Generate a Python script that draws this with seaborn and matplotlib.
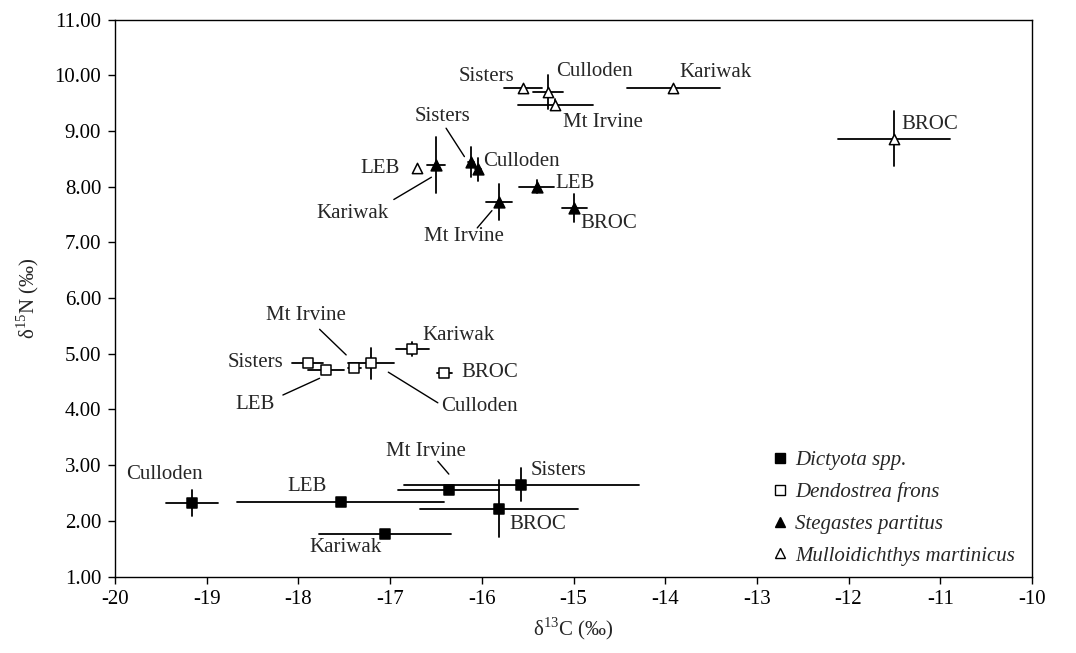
import matplotlib
matplotlib.use("Agg")
import matplotlib.pyplot as plt
import seaborn as sns
import pandas as pd
from matplotlib.lines import Line2D
from matplotlib.ticker import FormatStrFormatter

# ---------------- data ----------------
sites_dictyota = ["Culloden", "LEB", "Mt Irvine", "Sisters", "BROC", "Kariwak"]
c13_dictyota = [-19.16, -17.54, -16.36, -15.57, -15.81, -17.06]
n15_dictyota = [2.32, 2.34, 2.55, 2.65, 2.22, 1.77]
c13err_dictyota = [0.28, 1.13, 0.55, 1.28, 0.86, 0.72]
n15err_dictyota = [0.24, 0.03, 0.06, 0.30, 0.51, 0.06]

sites_dendostrea = ["Sisters", "LEB", "Mt Irvine", "Culloden", "Kariwak", "BROC"]
c13_dendostrea = [-17.90, -17.70, -17.39, -17.21, -16.76, -16.41]
n15_dendostrea = [4.83, 4.71, 4.75, 4.83, 5.09, 4.66]
c13err_dendostrea = [0.17, 0.20, 0.07, 0.25, 0.18, 0.08]
n15err_dendostrea = [0.03, 0.03, 0.03, 0.28, 0.13, 0.05]

sites_stegastes = ["Kariwak", "Sisters", "Culloden", "Mt Irvine", "LEB", "BROC"]
c13_stegastes = [-16.50, -16.12, -16.04, -15.81, -15.40, -14.99]
n15_stegastes = [8.39, 8.45, 8.31, 7.72, 8.00, 7.62]
c13err_stegastes = [0.10, 0.03, 0.03, 0.14, 0.19, 0.14]
n15err_stegastes = [0.50, 0.27, 0.21, 0.32, 0.12, 0.25]

sites_mulloid = ["LEB", "Sisters", "Culloden", "Mt Irvine", "Kariwak", "BROC"]
c13_mulloid = [-16.71, -15.55, -15.28, -15.20, -13.91, -11.50]
n15_mulloid = [8.33, 9.77, 9.70, 9.47, 9.78, 8.86]
c13err_mulloid = [0.0, 0.21, 0.16, 0.41, 0.51, 0.61]
n15err_mulloid = [0.0, 0.03, 0.31, 0.10, 0.03, 0.49]

species = ["Dictyota spp.", "Dendostrea frons", "Stegastes partitus",
           "Mulloidichthys martinicus"]
x_ticks = list(range(-20, -9))
y_ticks = [1, 2, 3, 4, 5, 6, 7, 8, 9, 10, 11]

# ---------------- styling ----------------
sns.set_style("ticks")
plt.rcParams["font.family"] = ["Liberation Serif", "DejaVu Serif"]
plt.rcParams["mathtext.fontset"] = "custom"
plt.rcParams["mathtext.rm"] = "Liberation Serif"
plt.rcParams["axes.unicode_minus"] = False
FS = 15

frames = []
for sp, s, x, y, xe, ye in [
    (species[0], sites_dictyota, c13_dictyota, n15_dictyota, c13err_dictyota, n15err_dictyota),
    (species[1], sites_dendostrea, c13_dendostrea, n15_dendostrea, c13err_dendostrea, n15err_dendostrea),
    (species[2], sites_stegastes, c13_stegastes, n15_stegastes, c13err_stegastes, n15err_stegastes),
    (species[3], sites_mulloid, c13_mulloid, n15_mulloid, c13err_mulloid, n15err_mulloid),
]:
    frames.append(pd.DataFrame({"species": sp, "site": s, "c13": x, "n15": y,
                                "c13err": xe, "n15err": ye}))
df = pd.concat(frames, ignore_index=True)

markers = {species[0]: "s", species[1]: "s", species[2]: "^", species[3]: "^"}
faces = {species[0]: "black", species[1]: "white", species[2]: "black", species[3]: "white"}
sizes = {species[0]: 55, species[1]: 50, species[2]: 60, species[3]: 55}

fig = plt.figure(figsize=(10.76, 6.53), dpi=100)
ax = fig.add_axes([0.107, 0.117, 0.852, 0.853])

# error bars
for _, r in df.iterrows():
    if r.c13err > 0:
        ax.plot([r.c13 - r.c13err, r.c13 + r.c13err], [r.n15, r.n15],
                color="black", lw=1.3, zorder=2)
    if r.n15err > 0:
        ax.plot([r.c13, r.c13], [r.n15 - r.n15err, r.n15 + r.n15err],
                color="black", lw=1.3, zorder=2)

for sp in species:
    sub = df[df.species == sp]
    sns.scatterplot(data=sub, x="c13", y="n15", marker=markers[sp], s=sizes[sp],
                    color=faces[sp], edgecolor="black", linewidth=1.1,
                    ax=ax, zorder=3, legend=False)

# ---------------- site labels (text position, alignment, optional leader) ----------------
labels = [
    # Dictyota
    ("Culloden", -19.46, 2.83, "center", None),
    ("LEB", -17.91, 2.62, "center", None),
    ("Mt Irvine", -16.61, 3.24, "center", ((-16.48, 3.07), (-16.36, 2.84))),
    ("Sisters", -15.47, 2.90, "left", None),
    ("BROC", -15.70, 1.94, "left", None),
    ("Kariwak", -17.49, 1.52, "center", None),
    # Dendostrea
    ("Mt Irvine", -17.92, 5.69, "center", ((-17.77, 5.44), (-17.48, 4.98))),
    ("Sisters", -18.17, 4.84, "right", None),
    ("LEB", -18.47, 4.09, "center", ((-18.17, 4.26), (-17.77, 4.56))),
    ("Kariwak", -16.65, 5.32, "left", None),
    ("BROC", -16.22, 4.67, "left", None),
    ("Culloden", -16.44, 4.06, "left", ((-17.02, 4.67), (-16.48, 4.12))),
    # Stegastes
    ("Sisters", -16.43, 9.26, "center", ((-16.39, 9.05), (-16.19, 8.54))),
    ("Culloden", -15.99, 8.46, "left", None),
    ("LEB", -15.20, 8.06, "left", None),
    ("BROC", -14.92, 7.34, "left", None),
    ("Mt Irvine", -16.20, 7.10, "center", ((-16.05, 7.26), (-15.89, 7.57))),
    ("Kariwak", -17.41, 7.52, "center", ((-16.96, 7.77), (-16.55, 8.17))),
    # Mulloidichthys
    ("LEB", -16.90, 8.33, "right", None),
    ("Sisters", -15.64, 9.98, "right", None),
    ("Culloden", -15.19, 10.06, "left", None),
    ("Mt Irvine", -15.11, 9.16, "left", None),
    ("Kariwak", -13.84, 10.05, "left", None),
    ("BROC", -11.42, 9.12, "left", None),
]
for txt, tx, ty, ha, leader in labels:
    ax.text(tx, ty, txt, ha=ha, va="center", fontsize=FS, zorder=4)
    if leader is not None:
        (x0, y0), (x1, y1) = leader
        ax.plot([x0, x1], [y0, y1], color="black", lw=1.0, zorder=2)

# ---------------- axes ----------------
ax.set_xlim(-20, -10)
ax.set_ylim(1, 11)
ax.set_xticks(x_ticks)
ax.set_yticks(y_ticks)
ax.xaxis.set_major_formatter(FormatStrFormatter("%d"))
ax.yaxis.set_major_formatter(FormatStrFormatter("%.2f"))
ax.tick_params(axis="both", direction="out", length=5, width=1, labelsize=FS,
               colors="black", pad=5)
for sp_ in ax.spines.values():
    sp_.set_visible(True)
    sp_.set_color("black")
    sp_.set_linewidth(1.0)
ax.set_xlabel(r"δ$^{13}$C (‰)", fontsize=FS, labelpad=4)
ax.set_ylabel(r"δ$^{15}$N (‰)", fontsize=FS, labelpad=10)

handles = [
    Line2D([], [], ls="", marker="s", ms=7, mfc="black", mec="black", mew=1),
    Line2D([], [], ls="", marker="s", ms=7, mfc="white", mec="black", mew=1),
    Line2D([], [], ls="", marker="^", ms=7.5, mfc="black", mec="black", mew=1),
    Line2D([], [], ls="", marker="^", ms=7.5, mfc="white", mec="black", mew=1),
]
leg = ax.legend(handles, species, loc="upper left", bbox_to_anchor=(0.716, 0.226),
                frameon=False, handlelength=0.8, handletextpad=0.35,
                labelspacing=0.58, borderpad=0, borderaxespad=0,
                prop={"family": "Liberation Serif", "style": "italic", "size": FS})

fig.savefig("out.png", dpi=100)
